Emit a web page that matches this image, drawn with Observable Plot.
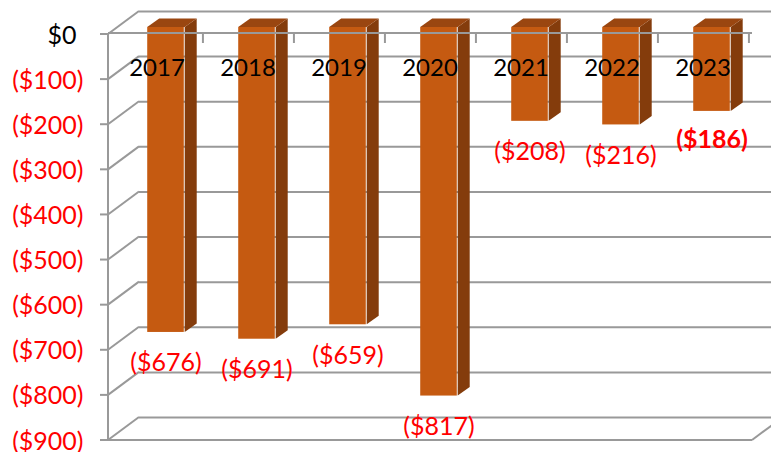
<!DOCTYPE html>
<html>
<head>
<meta charset="utf-8">
<script src="https://cdn.jsdelivr.net/npm/d3@7"></script>
<script src="https://cdn.jsdelivr.net/npm/@observablehq/plot@0.6"></script>
<style>
  html, body { margin: 0; padding: 0; background: #fff; }
  #chart { width: 771px; height: 452px; }
</style>
</head>
<body>
<div id="chart"></div>
<script>
// ---- data ----
const years = ["2017", "2018", "2019", "2020", "2021", "2022", "2023"];
const values = [-676, -691, -659, -817, -208, -216, -186];
const yTicks = [0, -100, -200, -300, -400, -500, -600, -700, -800, -900];

const data = years.map((year, i) => ({year, value: values[i], i}));
const fmt = v => v < 0 ? `($${-v})` : `$${v}`;

// ---- styling / geometry ----
const FRONT = "#C55A11", SIDE = "#843C0C", TOP = "#9A4610";
const GRID = "#999";
const xRange = [108, 751.5];
const bw = (xRange[1] - xRange[0]) / years.length;
const barW = 37.5, barDx = 9, barDy = -7;
const sideDx = 12, sideDy = -8.5;
const wallDx = 31, wallDy = -23;
const FONT = "Lato, 'Open Sans', sans-serif";

function wall(index, {x, y}) {
  const g = d3.create("svg:g").attr("stroke", GRID).attr("stroke-width", 2).attr("fill", "none");
  const x0 = xRange[0];
  for (const v of yTicks) {
    g.append("line").attr("x1", x0).attr("y1", y(v)).attr("x2", x0 + wallDx).attr("y2", y(v) + wallDy);
    g.append("line").attr("x1", x0 - 8).attr("y1", y(v)).attr("x2", x0).attr("y2", y(v));
  }
  g.append("line").attr("x1", x0).attr("y1", y(0) - 1).attr("x2", x0).attr("y2", y(-900));
  const xe = xRange[1] + 0.5;
  g.append("line").attr("x1", x0).attr("y1", y(-900)).attr("x2", xe).attr("y2", y(-900));
  g.append("line").attr("x1", xe).attr("y1", y(-900)).attr("x2", xe + wallDx).attr("y2", y(-900) + wallDy);
  return g.node();
}

function faces(index, {x, y}) {
  const g = d3.create("svg:g");
  for (const d of data) {
    const cx = x(d.year) + bw / 2 + barDx;
    const xl = cx - barW / 2, xr = cx + barW / 2;
    const yt = y(0) + barDy, yb = y(d.value) + barDy;
    g.append("polygon").attr("fill", SIDE)
      .attr("points", [[xr, yt], [xr + sideDx, yt + sideDy], [xr + sideDx, yb + sideDy], [xr, yb]].join(" "));
    g.append("polygon").attr("fill", TOP)
      .attr("points", [[xl, yt], [xr, yt], [xr + sideDx, yt + sideDy], [xl + sideDx, yt + sideDy]].join(" "));
  }
  return g.node();
}

function frontAxis(index, {x, y}) {
  const g = d3.create("svg:g").attr("stroke", GRID).attr("stroke-width", 2);
  const y0 = y(0) - 1;
  g.append("line").attr("x1", xRange[0]).attr("y1", y0).attr("x2", xRange[1] + 0.5).attr("y2", y0);
  years.forEach(yr => {
    const xt = x(yr) + bw;
    g.append("line").attr("x1", xt).attr("y1", y0).attr("x2", xt).attr("y2", y0 + 10);
  });
  return g.node();
}

const chart = Plot.plot({
  width: 771,
  height: 452,
  marginTop: 0, marginRight: 0, marginBottom: 0, marginLeft: 0,
  style: {background: "#fff", fontFamily: FONT},
  x: {type: "band", domain: years, range: xRange, padding: 0, axis: null},
  y: {type: "linear", domain: [-900, 0], range: [440, 34], axis: null},
  marks: [
    Plot.ruleY(yTicks, {y: d => d, dy: wallDy, insetLeft: xRange[0] + wallDx, stroke: GRID, strokeWidth: 2}),
    wall,
    faces,
    Plot.barY(data, {
      x: "year", y: "value", fill: FRONT,
      insetLeft: bw / 2 - barW / 2, insetRight: bw / 2 - barW / 2,
      dx: barDx, dy: barDy
    }),
    frontAxis,
    Plot.text(years, {x: d => d, frameAnchor: "top", dy: 68, lineAnchor: "middle", text: d => d,
      fontSize: 24, fill: "#000"}),
    Plot.text(data.filter(d => d.i < 6), {x: "year", y: "value", text: d => fmt(d.value),
      dx: barDx, dy: 24, lineAnchor: "middle", fontSize: 25, fill: "#FF0000"}),
    Plot.text(data.filter(d => d.i === 6), {x: "year", y: "value", text: d => fmt(d.value),
      dx: barDx, dy: 22, lineAnchor: "middle", fontSize: 25, fontWeight: "bold", fill: "#FF0000"}),
    Plot.text(yTicks.filter(v => v < 0), {y: d => d, text: fmt, frameAnchor: "left", dx: 83, dy: 1,
      textAnchor: "end", lineAnchor: "middle", fontSize: 25, fill: "#FF0000"}),
    Plot.text(yTicks.filter(v => v === 0), {y: d => d, text: fmt, frameAnchor: "left", dx: 76, dy: 1,
      textAnchor: "end", lineAnchor: "middle", fontSize: 25, fill: "#000"})
  ]
});
document.getElementById("chart").appendChild(chart);
</script>
</body>
</html>
